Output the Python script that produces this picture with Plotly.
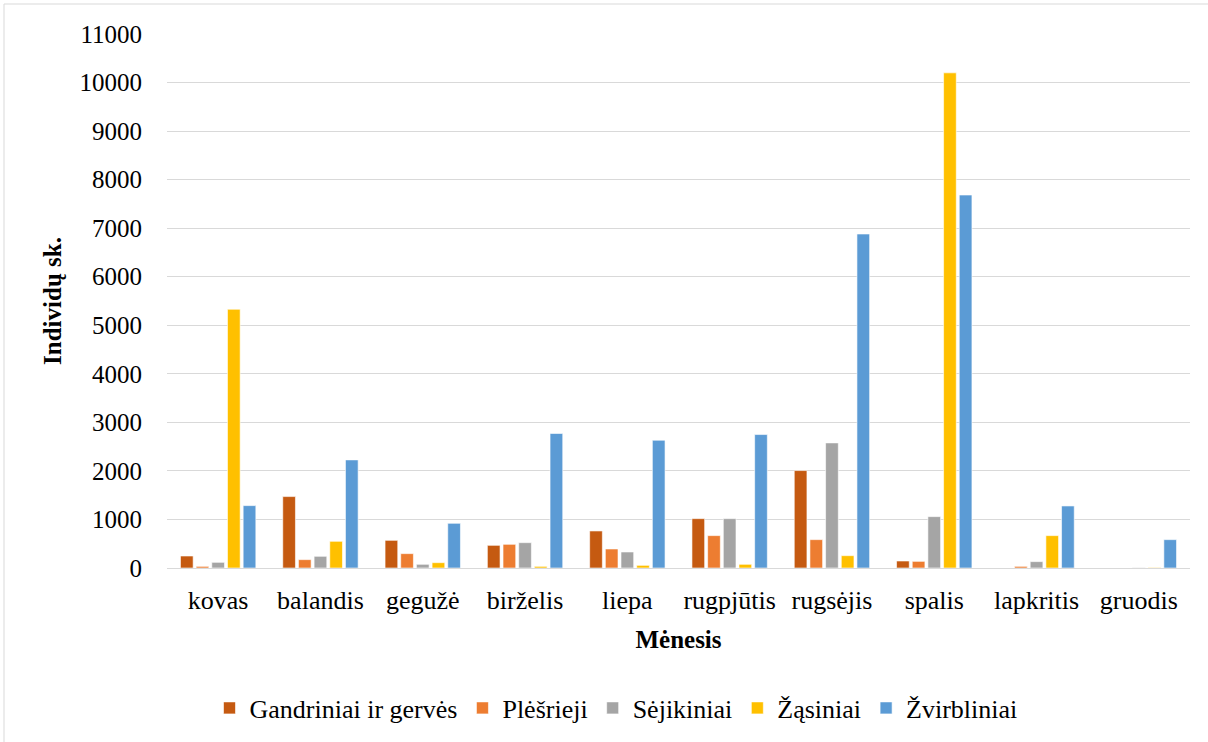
import plotly.graph_objects as go

months = ["kovas", "balandis", "gegužė", "birželis", "liepa", "rugpjūtis",
          "rugsėjis", "spalis", "lapkritis", "gruodis"]
gandriniai = [247, 1471, 570, 467, 763, 1017, 2007, 144, 0, 0]
plesrieji = [34, 172, 296, 488, 392, 667, 584, 137, 34, 0]
sejikiniai = [117, 241, 76, 522, 330, 1017, 2577, 1058, 131, 5]
zasiniai = [5330, 550, 110, 34, 55, 76, 254, 10200, 667, 10]
zvirbliniai = [1285, 2227, 921, 2770, 2632, 2749, 6880, 7683, 1278, 584]

series = [
    ("Gandriniai ir gervės", gandriniai, "#C55A11"),
    ("Plėšrieji", plesrieji, "#ED7D31"),
    ("Sėjikiniai", sejikiniai, "#A5A5A5"),
    ("Žąsiniai", zasiniai, "#FFC000"),
    ("Žvirbliniai", zvirbliniai, "#5B9BD5"),
]

FONT = "Liberation Serif"

fig = go.Figure()
for name, vals, col in series:
    fig.add_trace(go.Bar(
        x=months, y=vals, name=name,
        marker=dict(color=col, line=dict(color="white", width=0.6)),
    ))

fig.update_layout(
    width=1208, height=742,
    paper_bgcolor="white", plot_bgcolor="white",
    margin=dict(l=167, r=18, t=34, b=174, autoexpand=False),
    barmode="group", bargap=0.234, bargroupgap=0.19,
    font=dict(family=FONT, size=25, color="black"),
    showlegend=True,
    legend=dict(orientation="h", x=(616 - 167) / 1023, xanchor="center",
                y=(568 - 708) / 534, yanchor="middle",
                font=dict(family=FONT, size=26, color="black"),
                itemwidth=30, tracegroupgap=0),
    xaxis=dict(
        title=dict(text="<b>Mėnesis</b>", font=dict(family=FONT, size=25), standoff=16),
        showgrid=False, showline=True, linecolor="#D9D9D9", linewidth=1,
        ticks="", tickfont=dict(family=FONT, size=26), ticklabelstandoff=9,
    ),
    yaxis=dict(
        title=dict(text="<b>Individų sk.</b>", font=dict(family=FONT, size=25), standoff=10),
        range=[0, 11000], dtick=1000, tickformat="d",
        showgrid=True, gridcolor="#D9D9D9", gridwidth=1,
        zeroline=False, ticks="", tickfont=dict(family=FONT, size=25),
        ticklabelstandoff=24,
    ),
    shapes=[dict(type="rect", xref="paper", yref="paper",
                 x0=(4 - 167) / 1023, x1=(1240 - 167) / 1023,
                 y0=(568 - 780) / 534, y1=(568 - 4) / 534,
                 line=dict(color="#D9D9D9", width=1), layer="below")],
)

fig.write_html("out.html", config={"displayModeBar": False},
               post_script="document.body.style.margin='0';")
